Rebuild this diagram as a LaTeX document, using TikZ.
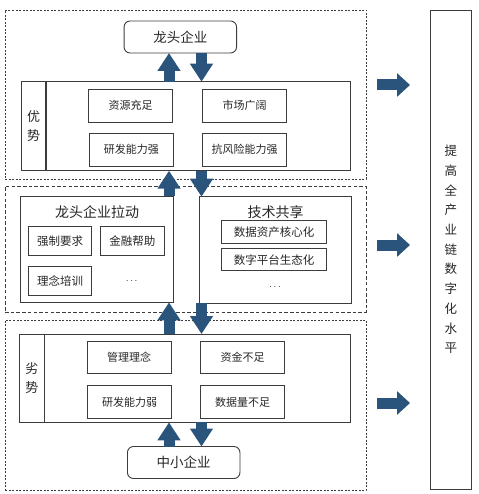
\documentclass[tikz,border=0pt]{standalone}
\usepackage{fontspec}
\setmainfont{Noto Sans CJK SC}
\usepackage{xcolor}
\usepackage{tikz}
\usetikzlibrary{arrows.meta, positioning, calc}
\definecolor{arrowblue}{RGB}{42,84,124}
\definecolor{linegray}{RGB}{60,60,60}

\begin{document}
\begin{tikzpicture}[x=1pt, y=-1pt,
  every node/.style={inner sep=0pt, outer sep=0pt, text=black!85},
  dashbox/.style={draw=linegray, line width=0.6pt, dash pattern=on 2pt off 1.5pt},
  dashboxheavy/.style={draw=linegray, line width=0.8pt, dash pattern=on 3.5pt off 2.2pt},
  panel/.style={draw=linegray, line width=0.9pt},
  itembox/.style={panel, minimum width=84, minimum height=33,
    font=\fontsize{11}{13}\selectfont},
  subbox/.style={panel, minimum height=28.3, font=\fontsize{11.5}{13}\selectfont},
  sidelbl/.style={panel, minimum width=24.5, align=center,
    font=\fontsize{13}{19}\selectfont},
  endbox/.style={panel, rounded corners=6pt, minimum width=112.5, minimum height=32,
    font=\fontsize{13.5}{15}\selectfont},
  titletext/.style={font=\fontsize{14}{16}\selectfont},
  vlink/.style={line width=11pt, arrowblue, -{Triangle[width=22pt, length=18pt]}},
  hlink/.style={line width=11pt, arrowblue, -{Triangle[width=23pt, length=13pt]}},
]
  \useasboundingbox (0,0) rectangle (478,494);

  % --- Groups (dashed frames) ---
  \node[dashbox, minimum width=361, minimum height=169] (grp1) at (185.5,94.5) {};
  \node[dashboxheavy, minimum width=361, minimum height=126] (grp2) at (185.5,249) {};
  \node[dashbox, minimum width=361, minimum height=170] (grp3) at (185.5,405) {};

  % --- Top: leading firms and their advantages ---
  \node[endbox] (lead) at (180.3,37) {龙头企业};
  \node[sidelbl, minimum height=89] (advlbl) at (33.7,126.2) {优\\势};
  \node[panel, minimum width=305, minimum height=89] (adv) at (198.2,126.2) {};
  \node[itembox] (res)  at (130.5,105.7) {资源充足};
  \node[itembox] (rnd)  at (131.3,149.7) {研发能力强};
  \node[itembox] (mkt)  at (244.7,105.7) {市场广阔};
  \node[itembox] (risk) at (244.7,149.7) {抗风险能力强};

  % --- Middle: pull of leading firms, technology sharing ---
  \node[panel, minimum width=152.6, minimum height=106.3] (pull) at (97,249.2) {};
  \node[titletext] (pulltitle) at (97,212) {龙头企业拉动};
  \node[subbox, minimum width=63.4] (req)  at (60,240.8)    {强制要求};
  \node[subbox, minimum width=63.4] (fin)  at (132.3,240.8) {金融帮助};
  \node[subbox, minimum width=63.4] (idea) at (60,281)      {理念培训};
  \node (pulldots) at (131.7,281) {$\cdots$};

  \node[panel, minimum width=152.4, minimum height=106.6] (share) at (275.5,250) {};
  \node[titletext] (sharetitle) at (275.5,211.7) {技术共享};
  \node[subbox, minimum width=105, minimum height=22.6] (core) at (274.2,232)   {数据资产核心化};
  \node[subbox, minimum width=105, minimum height=22]   (eco)  at (274.2,259.8) {数字平台生态化};
  \node (sharedots) at (275,287.3) {$\cdots$};

  % --- Bottom: SMEs and their disadvantages ---
  \node[sidelbl, minimum height=88.3] (dislbl) at (31.8,378.2) {劣\\势};
  \node[panel, minimum width=306.4, minimum height=88.3] (dis) at (197.5,378.2) {};
  \node[itembox, minimum height=31.6] (mgmt) at (129.2,357.5) {管理理念};
  \node[itembox, minimum height=32.6] (weak) at (129.5,402)   {研发能力弱};
  \node[itembox, minimum height=31.6] (cash) at (242.5,357.5) {资金不足};
  \node[itembox, minimum height=32.6] (data) at (242.5,402)   {数据量不足};
  \node[endbox] (sme) at (183.7,462.5) {中小企业};

  % --- Goal ---
  \node[panel, minimum width=40.3, minimum height=479, align=center,
        font=\fontsize{12.5}{19.7}\selectfont] (goal) at (450.8,249.5)
        {提\\高\\全\\产\\业\\链\\数\\字\\化\\水\\平};

  % --- Two-way links ---
  \coordinate (upx) at (169,0);
  \coordinate (dnx) at (201.5,0);
  \draw[vlink] (adv.north -| upx) -- (lead.south -| upx);
  \draw[vlink] (lead.south -| dnx) -- (adv.north -| dnx);
  \draw[vlink] (pull.north -| upx) -- (adv.south -| upx);
  \draw[vlink] (adv.south -| dnx) -- (share.north -| dnx);
  \draw[vlink] (dis.north -| upx) -- (pull.south -| upx);
  \draw[vlink] (share.south -| dnx) -- (dis.north -| dnx);
  \draw[vlink] (sme.north -| upx) -- (dis.south -| upx);
  \draw[vlink] (dis.south -| dnx) -- (sme.north -| dnx);

  % --- Links to goal ---
  \foreach \i/\yy in {1/85, 2/245, 3/403} {
    \coordinate (rs\i) at (377,\yy);
    \coordinate (re\i) at (410,\yy);
    \draw[hlink] (rs\i) -- (re\i);
  }
\end{tikzpicture}
\end{document}
